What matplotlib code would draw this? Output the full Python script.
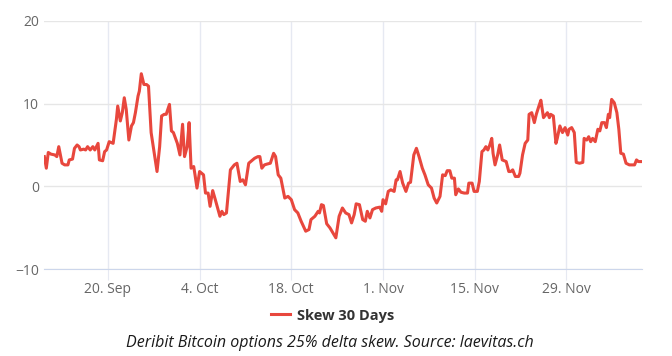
import numpy as np
import pandas as pd
import matplotlib
matplotlib.use('Agg')
import matplotlib.pyplot as plt

# time of each reading, in days after 10 Sep 2021
days = [0.3, 0.6, 0.9, 1.3, 1.9, 2.2, 2.5, 2.8, 3.0, 3.4, 3.9, 4.1, 4.6, 4.9, 5.3, 5.6,
        5.8, 6.3, 6.6, 6.9, 7.3, 7.7, 8.0, 8.5, 8.7, 9.2, 9.5, 9.8, 10.2, 10.8, 11.3,
        11.5, 11.9, 12.2, 12.5, 12.8, 13.2, 13.6, 13.9, 14.2, 14.6, 14.8, 15.1, 15.5,
        15.9, 16.2, 16.6, 17.0, 17.5, 17.9, 18.2, 18.6, 18.9, 19.4, 19.7, 20.0, 20.6,
        21.0, 21.4, 21.7, 22.1, 22.4, 22.7, 23.1, 23.3, 23.6, 24.0, 24.6, 24.9, 25.3,
        25.6, 26.0, 26.4, 27.1, 27.4, 27.7, 28.1, 28.7, 29.3, 29.7, 30.2, 30.6, 31.0,
        31.5, 32.4, 32.9, 33.2, 33.5, 33.9, 34.3, 34.8, 35.3, 35.6, 36.0, 36.4, 37.0,
        37.5, 38.0, 38.5, 39.0, 39.5, 40.2, 40.7, 41.0, 41.6, 42.1, 42.3, 42.6, 42.9,
        43.4, 43.9, 44.5, 44.8, 45.3, 45.8, 46.3, 46.8, 47.2, 47.6, 47.9, 48.4, 48.9,
        49.3, 49.6, 50.0, 50.4, 50.9, 51.5, 51.8, 52.0, 52.4, 52.8, 53.2, 53.7, 54.0,
        54.2, 54.6, 55.0, 55.5, 55.9, 56.2, 56.7, 57.1, 57.5, 58.0, 58.4, 58.9, 59.4,
        59.8, 60.2, 60.7, 61.1, 61.5, 61.8, 62.2, 62.5, 62.9, 63.1, 63.5, 63.9, 64.4,
        64.9, 65.1, 65.6, 65.9, 66.4, 66.7, 67.1, 67.4, 67.7, 68.0, 68.3, 68.6, 68.8,
        69.1, 69.5, 69.8, 70.2, 70.8, 71.2, 71.5, 71.8, 72.2, 72.7, 72.9, 73.3, 73.7,
        74.1, 74.3, 74.7, 75.1, 75.4, 75.8, 76.1, 76.5, 76.9, 77.1, 77.4, 77.6, 78.0,
        78.4, 78.6, 79.0, 79.4, 79.8, 80.2, 80.4, 80.8, 81.2, 81.5, 82.0, 82.5, 82.7,
        83.1, 83.4, 83.7, 84.0, 84.4, 84.8, 85.1, 85.4, 85.8, 86.1, 86.4, 86.6, 86.9,
        87.3, 87.7, 88.0, 88.3, 88.7, 89.1, 89.6, 90.1, 90.4, 90.7, 91.0, 91.4]

skew = [3.6, 2.2, 4.1, 3.9, 3.8, 3.6, 4.8, 3.6, 2.8, 2.6, 2.6, 3.2, 3.3, 4.6, 5.0, 4.8,
        4.4, 4.5, 4.4, 4.8, 4.4, 4.8, 4.4, 5.2, 3.2, 3.1, 4.2, 4.4, 5.4, 5.2, 8.1,
        9.7, 7.9, 8.9, 10.7, 9.3, 5.6, 7.3, 7.7, 8.9, 10.9, 11.5, 13.6, 12.3,
        12.3, 12.1, 6.5, 4.4, 1.8, 4.8, 8.5, 8.7, 8.7, 9.9, 6.7, 6.5, 5.2,
        3.8, 7.5, 3.6, 4.8, 7.7, 2.2, 2.4, 1.4, -0.2, 1.8, 1.4, -0.8, -0.8,
        -2.4, -0.5, -1.6, -3.6, -3.0, -3.4, -3.2, 2.0, 2.6, 2.8, 0.6, 0.8, 0.2,
        2.8, 3.4, 3.6, 3.6, 2.2, 2.6, 2.7, 2.8, 4.0, 3.6, 1.4, 1.0, -1.4,
        -1.2, -1.6, -2.8, -3.2, -4.2, -5.4, -5.2, -4.0, -3.6, -3.0, -3.2, -2.2, -2.3,
        -4.5, -5.0, -5.8, -6.2, -3.6, -2.6, -3.2, -3.4, -4.4, -3.4, -2.1, -2.2, -4.0,
        -4.2, -3.0, -3.8, -2.8, -2.6, -2.5, -3.0, -1.6, -2.1, -0.6, -0.4, -0.6, 0.8,
        0.8, 1.8, 0.4, -0.6, 0.4, 0.5, 3.8, 4.6, 3.6, 2.2, 1.4, 0.2, -0.2,
        -1.4, -2.0, -1.2, 1.4, 1.3, 1.9, 1.9, 1.0, 1.0, -1.0, -0.3, -0.7, -0.8,
        -0.8, 0.4, 0.4, -0.6, -0.6, 0.6, 4.2, 4.4, 4.8, 4.4, 5.0, 5.8, 4.0,
        2.6, 3.8, 5.0, 3.2, 3.0, 1.8, 1.8, 2.0, 1.2, 1.2, 1.6, 3.8, 5.2,
        5.6, 8.7, 8.9, 7.7, 8.7, 9.7, 10.4, 8.3, 8.7, 8.9, 8.3, 8.7, 8.5,
        5.2, 5.8, 7.3, 6.5, 7.1, 6.2, 6.9, 7.1, 6.5, 2.9, 2.8, 2.9, 5.8,
        5.6, 6.0, 5.4, 5.8, 5.4, 6.9, 6.7, 7.7, 7.7, 7.1, 8.7, 8.3, 10.5,
        10.1, 8.9, 6.9, 4.0, 3.9, 2.8, 2.6, 2.6, 2.6, 3.2, 3.0, 3.0]

start = pd.Timestamp('2021-09-10')
times = start + pd.to_timedelta(days, unit='D')

fig = plt.figure(figsize=(6.72, 3.56), dpi=100)
ax = fig.add_axes([0.066, 0.2435, 0.889, 0.6984])

ax.plot(times, skew, color='#e8473d', lw=2.2, solid_joinstyle='round', zorder=3)

ax.set_ylim(-10, 20)
ax.set_yticks([-10, 0, 10, 20])
ax.set_xlim(start + pd.Timedelta(days=0.3), start + pd.Timedelta(days=91.5))
ticks = pd.date_range('2021-09-20', '2021-12-01', freq='14D')
ax.set_xticks(ticks)
ax.set_xticklabels([t.strftime('%-d. %b') for t in ticks])

ax.grid(axis='y', color='#e6e6e6', lw=1)
ax.grid(axis='x', color='#e6e9f2', lw=1)
for s in ['top', 'right', 'left']:
    ax.spines[s].set_visible(False)
ax.spines['bottom'].set_color('#ccd6eb')
ax.tick_params(axis='y', length=0, pad=4, labelsize=10, labelcolor='#666666')
ax.tick_params(axis='x', length=8, color='#e6e9f2', pad=1, labelsize=10, labelcolor='#666666')
for lab in ax.get_xticklabels() + ax.get_yticklabels():
    lab.set_family('Open Sans')

leg = ax.legend(['Skew 30 Days'], loc='upper center', bbox_to_anchor=(0.482, -0.105),
                frameon=False, handlelength=1.3, handletextpad=0.5,
                prop={'family': 'Open Sans', 'weight': 'bold', 'size': 10.5})
for t in leg.get_texts():
    t.set_color('#333333')

fig.text(0.491, 0.036, 'Deribit Bitcoin options 25% delta skew. Source: laevitas.ch',
         ha='center', va='center', fontsize=11.5, style='italic', family='Open Sans',
         color='#1a1a1a')

fig.savefig('out.png', dpi=100)
